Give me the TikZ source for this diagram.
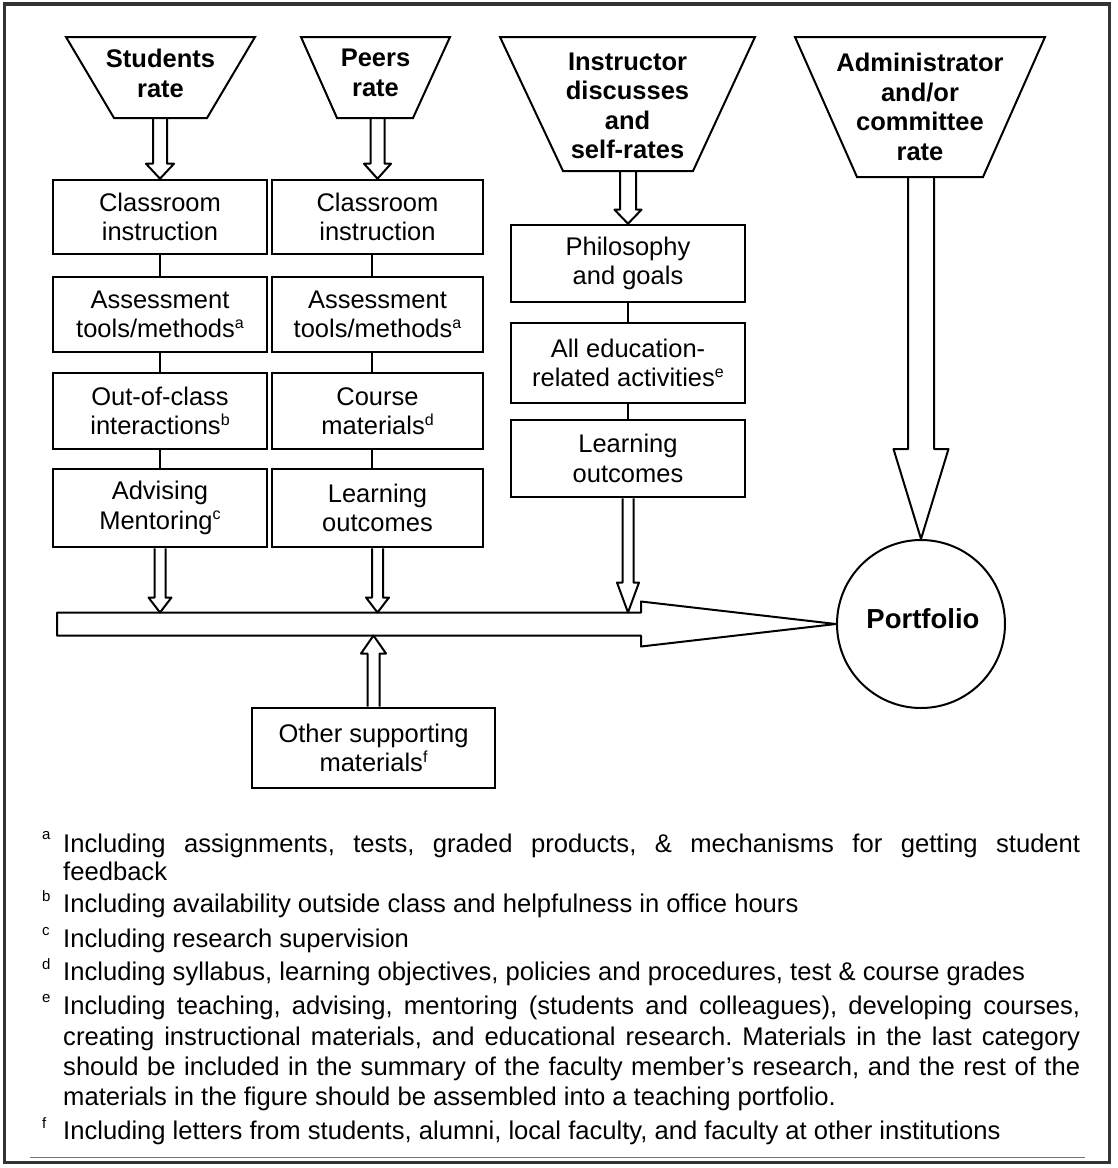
\documentclass[tikz,border=0pt]{standalone}
\usepackage{fontspec}
\setmainfont{Liberation Sans}
\usetikzlibrary{calc}
\frenchspacing
\newcommand\fsup[1]{\raisebox{9.5pt}{\fontsize{16}{16}\selectfont #1}}
\newcommand\blkv[5]{\draw[blk] ($(#1 -| #2)+(-#3,0)$) -- ($(#2)+(-#3,#5)$) -- ($(#2)+(-#4,#5)$) -- (#2) -- ($(#2)+(#4,#5)$) -- ($(#2)+(#3,#5)$) -- ($(#1 -| #2)+(#3,0)$);}
\newcommand\blkh[5]{\draw[blk] ($(#1 |- #2)+(0,-#3)$) -- ($(#2)+(-#5,-#3)$) -- ($(#2)+(-#5,-#4)$) -- (#2) -- ($(#2)+(-#5,#4)$) -- ($(#2)+(-#5,#3)$) -- ($(#1 |- #2)+(0,#3)$) -- cycle;}
\tikzset{
 boxn/.style={draw, line width=2.6pt, inner sep=0pt, align=center, font=\fontsize{25.5}{29.5}\selectfont},
 trap/.style={draw, line width=2pt, line join=miter},
 ttext/.style={align=center, inner sep=0pt, font=\bfseries\fontsize{25.5}{30}\selectfont},
 conn/.style={line width=2pt},
 blk/.style={draw, line width=2pt, line join=round},
 fn/.style={anchor=base west, inner sep=0pt, font=\fontsize{25.6}{29}\selectfont},
 fnl/.style={anchor=base west, inner sep=0pt, font=\fontsize{15}{15}\selectfont},
}
\begin{document}
\begin{tikzpicture}[x=1pt,y=-1pt]
\useasboundingbox (0,0) rectangle (1118,1168);
\draw[line width=3.5pt, black!80] (4.5,4) rectangle (1109.5,1162.5);

% source trapezoids
\draw[trap] (66,37) -- (255,37) -- (207,118) -- (114,118) -- cycle;
\node[ttext] (t1) at (160.5,73) {Students\\rate};
\coordinate (t1b) at (160.5,118);
\draw[trap] (301,37) -- (450,37) -- (413,118) -- (337,118) -- cycle;
\node[ttext] (t2) at (375.5,73) {Peers\\rate};
\coordinate (t2b) at (375.5,118);
\draw[trap] (500,37) -- (755,37) -- (693,171) -- (563,171) -- cycle;
\node[ttext, font=\bfseries\fontsize{25.5}{29.5}\selectfont] (t3) at (627.5,106) {Instructor\\discusses\\and\\self-rates};
\coordinate (t3b) at (627.5,171);
\draw[trap] (795,37) -- (1045,37) -- (983,177) -- (857,177) -- cycle;
\node[ttext, font=\bfseries\fontsize{25.5}{29.5}\selectfont] (t4) at (920,107) {Administrator\\and/or\\committee\\rate};
\coordinate (t4b) at (920,177);

% column 1
\node[boxn, minimum width=214pt, minimum height=74pt] (s1) at (160,217) {Classroom\\instruction};
\node[boxn, minimum width=214pt, minimum height=75pt] (s2) at (160,314.5) {Assessment\\tools/methods\fsup{a}};
\node[boxn, minimum width=214pt, minimum height=76pt] (s3) at (160,411) {Out-of-class\\interactions\fsup{b}};
\node[boxn, minimum width=214pt, minimum height=78pt] (s4) at (160,508) {Advising\\Mentoring\fsup{c}};
\draw[conn] (s1.south) -- (s2.north);
\draw[conn] (s2.south) -- (s3.north);
\draw[conn] (s3.south) -- (s4.north);

% column 2
\node[boxn, minimum width=211pt, minimum height=74pt] (p1) at (377.5,217) {Classroom\\instruction};
\node[boxn, minimum width=211pt, minimum height=75pt] (p2) at (377.5,314.5) {Assessment\\tools/methods\fsup{a}};
\node[boxn, minimum width=211pt, minimum height=76pt] (p3) at (377.5,411) {Course\\materials\fsup{d}};
\node[boxn, minimum width=211pt, minimum height=78pt] (p4) at (377.5,508) {Learning\\outcomes};
\draw[conn] ($(p1.south)+(-6,0)$) -- ($(p2.north)+(-6,0)$);
\draw[conn] ($(p2.south)+(-6,0)$) -- ($(p3.north)+(-6,0)$);
\draw[conn] ($(p3.south)+(-6,0)$) -- ($(p4.north)+(-6,0)$);

% column 3
\node[boxn, minimum width=234pt, minimum height=77pt] (i1) at (628,263.5) {Philosophy\\and goals};
\node[boxn, minimum width=234pt, minimum height=80pt] (i2) at (628,363) {All education-\\related activities\fsup{e}};
\node[boxn, minimum width=234pt, minimum height=77pt] (i3) at (628,458.5) {Learning\\outcomes};
\draw[conn] (i1.south) -- (i2.north);
\draw[conn] (i2.south) -- (i3.north);

% other materials
\node[boxn, minimum width=243pt, minimum height=80pt] (o) at (373.5,748) {Other supporting\\materials\fsup{f}};

% portfolio
\node[draw, circle, line width=2pt, minimum size=168pt, inner sep=0pt] (port) at (921,624) {};
\node[inner sep=0pt, font=\bfseries\fontsize{27.5}{30}\selectfont] (portt) at (923,619) {Portfolio};

% top block arrows
\blkv{t1b}{s1.north}{7}{14}{-15}
\blkv{t2b}{p1.north}{7}{13.5}{-15}
\blkv{t3b}{i1.north}{8}{13.5}{-14}
\blkv{t4b}{port.north}{13}{27.5}{-90}

% horizontal bar arrow
\coordinate (barL) at (57,624);
\coordinate (bartop) at (0,612.5);
\coordinate (barbot) at (0,635.5);
\blkh{barL}{port.west}{11.5}{22.5}{195}

% arrows into the bar
\coordinate (a1) at (s4.south |- bartop);
\blkv{s4.south}{a1}{5.5}{11.5}{-15}
\coordinate (a2) at (p4.south |- bartop);
\blkv{p4.south}{a2}{5.5}{11.5}{-15}
\coordinate (a3) at (i3.south |- bartop);
\blkv{i3.south}{a3}{5.5}{11}{-30}
\coordinate (a4) at (o.north |- barbot);
\blkv{o.north}{a4}{6}{12.5}{18}

% footnotes
\node[fnl] (la) at (42,839) {a};
\node[fn] (fa1) at (63,852) {\makebox[1017pt][s]{Including assignments, tests, graded products, \& mechanisms for getting student}};
\node[fn] (fa2) at (63,880) {feedback};
\node[fnl] (lb) at (42,901) {b};
\node[fn] (fb) at (63,912) {Including availability outside class and helpfulness in office hours};
\node[fnl] (lc) at (42,935) {c};
\node[fn] (fc) at (63,947) {Including research supervision};
\node[fnl] (ld) at (42,969) {d};
\node[fn] (fd) at (63,980) {Including syllabus, learning objectives, policies and procedures, test \& course grades};
\node[fnl] (le) at (42,1002) {e};
\node[fn] (fe1) at (63,1014) {\makebox[1017pt][s]{Including teaching, advising, mentoring (students and colleagues), developing courses,}};
\node[fn] (fe2) at (63,1045) {\makebox[1017pt][s]{creating instructional materials, and educational research. Materials in the last category}};
\node[fn] (fe3) at (63,1075) {\makebox[1017pt][s]{should be included in the summary of the faculty member’s research, and the rest of the}};
\node[fn] (fe4) at (63,1105) {materials in the figure should be assembled into a teaching portfolio.};
\node[fnl] (lf) at (42,1128) {f};
\node[fn] (ff) at (63,1139) {Including letters from students, alumni, local faculty, and faculty at other institutions};
\draw[line width=1pt, black!55] (30,1157) -- (1085,1157);
\end{tikzpicture}
\end{document}
